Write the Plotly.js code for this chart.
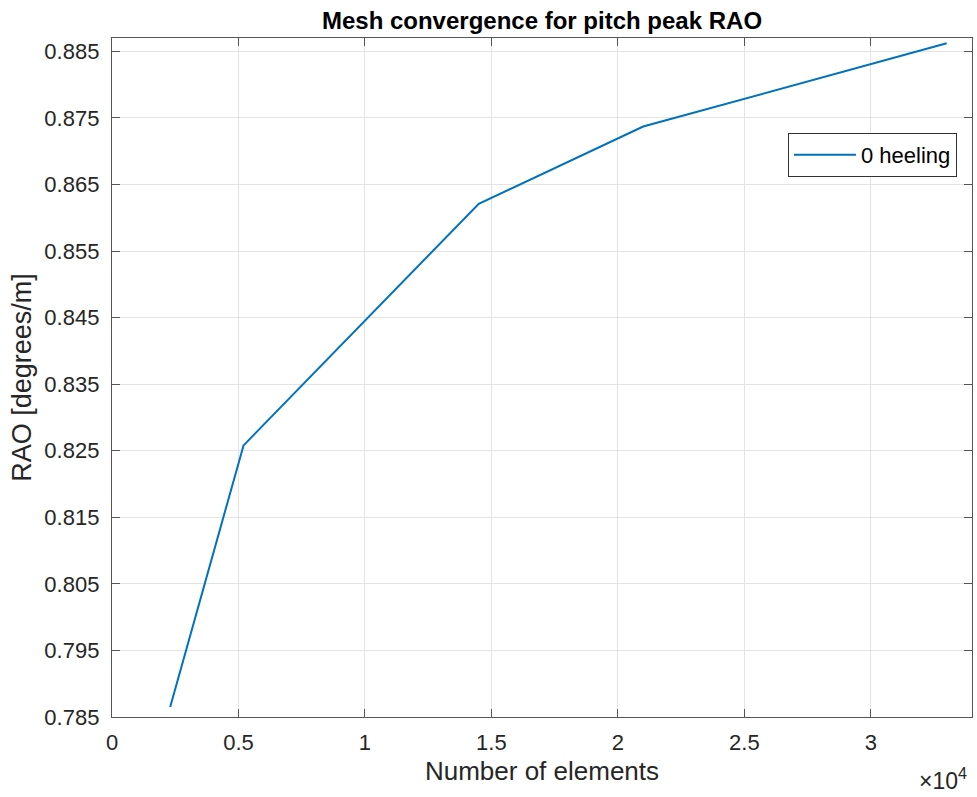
<!DOCTYPE html>
<html>
<head>
<meta charset="utf-8">
<script src="https://cdn.plot.ly/plotly-3.0.1.min.js"></script>
<style>
  html, body { margin: 0; padding: 0; background: #ffffff; }
  #chart { width: 977px; height: 797px; }
</style>
</head>
<body>
<div id="chart"></div>
<script>
// Mesh convergence study: pitch peak RAO against mesh size
const elementCounts = [2300, 5200, 14500, 21000, 33000];
const pitchPeakRAO = [0.7865, 0.8258, 0.8621, 0.8737, 0.8862];
const seriesName = '0 heeling';

const xTickVals = [0, 5000, 10000, 15000, 20000, 25000, 30000];
const xTickText = ['0', '0.5', '1', '1.5', '2', '2.5', '3'];
const yTickVals = [0.785, 0.795, 0.805, 0.815, 0.825, 0.835, 0.845, 0.855, 0.865, 0.875, 0.885];
const yTickText = ['0.785', '0.795', '0.805', '0.815', '0.825', '0.835', '0.845', '0.855', '0.865', '0.875', '0.885'];

const fontFamily = '"Liberation Sans", Arial, Helvetica, sans-serif';
const axisColor = '#555555';
const gridColor = '#e3e3e3';
const textColor = '#262626';

const trace = {
  x: elementCounts,
  y: pitchPeakRAO,
  type: 'scatter',
  mode: 'lines',
  name: seriesName,
  line: { color: '#0072BD', width: 2 },
  showlegend: true
};

const axisCommon = {
  showline: true,
  linecolor: axisColor,
  linewidth: 1.2,
  mirror: 'ticks',
  ticks: 'inside',
  ticklen: 8,
  tickcolor: axisColor,
  tickwidth: 1,
  showgrid: true,
  gridcolor: gridColor,
  gridwidth: 1,
  zeroline: false,
  tickfont: { family: fontFamily, size: 22, color: textColor }
};

const layout = {
  width: 977,
  height: 797,
  margin: { l: 112, r: 5, t: 38, b: 80 },
  paper_bgcolor: '#ffffff',
  plot_bgcolor: '#ffffff',
  font: { family: fontFamily, color: textColor },
  title: {
    text: '<b>Mesh convergence for pitch peak RAO</b>',
    font: { family: fontFamily, size: 24, color: '#000000' },
    xref: 'paper',
    x: 0.5,
    xanchor: 'center',
    yref: 'container',
    y: 0.9737,
    yanchor: 'middle'
  },
  xaxis: Object.assign({}, axisCommon, {
    range: [0, 34000],
    tickmode: 'array',
    tickvals: xTickVals,
    ticktext: xTickText,
    ticklabelstandoff: 5,
    title: { text: 'Number of elements', font: { family: fontFamily, size: 26, color: textColor }, standoff: 8 }
  }),
  yaxis: Object.assign({}, axisCommon, {
    range: [0.785, 0.887],
    tickmode: 'array',
    tickvals: yTickVals,
    ticktext: yTickText,
    ticklabelstandoff: 7,
    title: { text: 'RAO [degrees/m]', font: { family: fontFamily, size: 27, color: textColor }, standoff: 4 }
  }),
  legend: {
    x: 0.786,
    y: 0.860,
    xanchor: 'left',
    yanchor: 'top',
    bgcolor: '#ffffff',
    bordercolor: '#333333',
    borderwidth: 1,
    itemwidth: 62,
    font: { family: fontFamily, size: 22, color: '#000000' }
  },
  annotations: [{
    text: '×10<sup>4</sup>',
    xref: 'paper',
    yref: 'paper',
    x: 0.9965,
    y: -0.066,
    xanchor: 'right',
    yanchor: 'top',
    showarrow: false,
    font: { family: fontFamily, size: 23, color: textColor }
  }]
};

Plotly.newPlot('chart', [trace], layout, { displayModeBar: false, staticPlot: true });
</script>
</body>
</html>
